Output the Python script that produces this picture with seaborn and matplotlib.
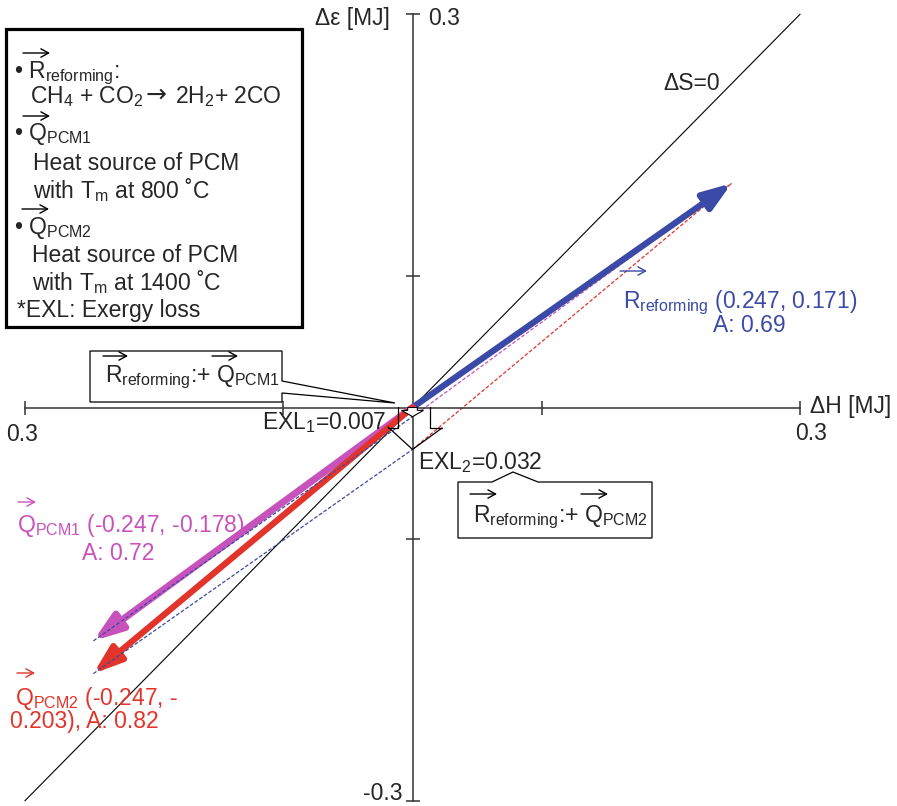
import numpy as np
import seaborn as sns
import matplotlib
matplotlib.use('Agg')
import matplotlib.pyplot as plt
from matplotlib.patches import Rectangle, Polygon

# vectors in the dH - d(exergy) plane [MJ]
vec_names = ['R_reforming', 'Q_PCM1', 'Q_PCM2']
dH = [0.247, -0.247, -0.247]
dE = [0.171, -0.178, -0.203]
ratio_A = [0.69, 0.72, 0.82]
exl = [0.007, 0.032]          # exergy losses EXL1, EXL2
axis_ticks = [-0.3, -0.1, 0.1, 0.3]
ds0_line = [-0.3, 0.3]        # dS = 0 line (dE = dH)

blue = '#3A4AA6'
magenta = '#C852BC'
red = '#E3342B'

sns.set_style('white')
plt.rcParams['font.family'] = ['Liberation Sans', 'DejaVu Sans']
plt.rcParams['mathtext.fontset'] = 'custom'
plt.rcParams['mathtext.rm'] = 'Liberation Sans'
plt.rcParams['mathtext.it'] = 'Liberation Sans:italic'
plt.rcParams['mathtext.bf'] = 'Liberation Sans:bold'
FS = 16.5

fig = plt.figure(figsize=(8.97, 8.06), dpi=100)
ax = fig.add_axes([0, 0, 1, 1])

# pixel position of the picture -> data coords (for placing annotations)
X0, SX = 412.5, 1292.0
Y0, SY = 407.5, 1311.0
def px(x, y):
    return ((x - X0) / SX, (Y0 - y) / SY)

def vec_mark(x0, x1, y, color='black'):
    # small arrow drawn over a vector symbol
    ax.annotate('', xy=px(x1, y), xytext=px(x0, y),
                arrowprops=dict(arrowstyle='->,head_length=0.55,head_width=0.3',
                                mutation_scale=10, lw=1.0, color=color,
                                shrinkA=0, shrinkB=0), zorder=9)

ax.set_xlim(px(0, 0)[0], px(897, 0)[0])
ax.set_ylim(px(0, 806)[1], px(0, 0)[1])

# axes crossing at the origin
for s in ['top', 'right']:
    ax.spines[s].set_visible(False)
ax.spines['left'].set_position(('data', 0))
ax.spines['bottom'].set_position(('data', 0))
ax.spines['left'].set_bounds(-0.3, 0.3)
ax.spines['bottom'].set_bounds(-0.3, 0.3)
for s in ['left', 'bottom']:
    ax.spines[s].set_color('#333333')
    ax.spines[s].set_linewidth(1.1)
ax.set_xticks(axis_ticks)
ax.set_yticks(axis_ticks)
ax.tick_params(bottom=True, left=True, direction='inout', length=10, width=1.1,
               color='#333333', labelbottom=False, labelleft=False)

# dS = 0
sns.lineplot(x=ds0_line, y=ds0_line, color='black', lw=0.8, ax=ax, zorder=2)

# dashed construction lines (vector sums)
for i in [1, 2]:
    sx, sy = dH[i] + dH[0], dE[i] + dE[0]
    ax.plot([dH[i], sx], [dE[i], sy], color=blue, lw=0.9, ls=(0, (3, 1.5)), zorder=4)
ax.plot([0, dH[0]], [dE[1] + dE[0], dE[0]], color=magenta, lw=0.9, ls=(0, (3, 1.5)), zorder=2)
ax.plot([0, dH[0]], [dE[2] + dE[0], dE[0]], color=red, lw=0.9, ls=(0, (3, 1.5)), zorder=2)

# main vectors
for i, (c, w) in enumerate([(blue, 4.5), (magenta, 5), (red, 4.5)]):
    ax.annotate('', xy=(dH[i], dE[i]), xytext=(0, 0),
                arrowprops=dict(arrowstyle='-|>,head_length=0.85,head_width=0.3',
                                mutation_scale=20, lw=w, color=c,
                                shrinkA=0, shrinkB=0), zorder=3)

# exergy loss brackets
ax.plot(*zip(px(398, 407), px(398, 428), px(388, 428)), color='black', lw=0.9, zorder=5)
ax.plot(*zip(px(430, 407), px(430, 428), px(442, 428)), color='black', lw=0.9, zorder=5)
vx = [px(388, 427)[0], 0, px(442, 428)[0]]
vy = [px(388, 427)[1], -exl[1], px(442, 428)[1]]
ax.plot(vx, vy, color='black', lw=0.9, zorder=5)
ax.arrow(0, 0, 0, -exl[0], width=0.0075, head_width=0.017, head_length=0.0048,
         length_includes_head=True, fc='white', ec='black', lw=0.8, zorder=6)

# legend box
bx0, by0 = px(6, 327)
bx1, by1 = px(302, 29)
ax.add_patch(Rectangle((bx0, by0), bx1 - bx0, by1 - by0, fc='white', ec='black',
                       lw=2.3, zorder=7))

R_sym = r'R$_{\mathrm{reforming}}$'
Q1_sym = r'Q$_{\mathrm{PCM1}}$'
Q2_sym = r'Q$_{\mathrm{PCM2}}$'

legend_lines = [
    (14, 78, '• ' + R_sym + ':'),
    (30, 103, 'CH$_4$ + CO$_2$'),
    (175, 103, '2H$_2$+ 2CO'),
    (14, 140, '• ' + Q1_sym),
    (33, 170, 'Heat source of PCM'),
    (33, 198, r'with T$_\mathrm{m}$ at 800 ˚C'),
    (14, 234, '• ' + Q2_sym),
    (32, 262, 'Heat source of PCM'),
    (32, 290, r'with T$_\mathrm{m}$ at 1400 ˚C'),
    (17, 317, '*EXL: Exergy loss'),
]
for x, y, t in legend_lines:
    ax.text(*px(x, y), t, fontsize=FS, va='baseline', ha='left', zorder=8)
ax.text(*px(146, 102), '→', fontsize=18, family='DejaVu Sans', va='baseline', zorder=8)
vec_mark(23, 50, 53)
vec_mark(23, 50, 116)
vec_mark(22, 49, 209)

# callout boxes
c1 = [px(90, 351), px(282, 351), px(282, 381), px(395, 403), px(282, 393),
      px(282, 402), px(90, 402)]
ax.add_patch(Polygon(c1, closed=True, fc='white', ec='black', lw=0.9, zorder=7))
ax.text(*px(105, 382), R_sym + ':+ ' + Q1_sym, fontsize=FS, va='baseline', zorder=8)
vec_mark(103, 128, 356)
vec_mark(212, 238, 356)
c2 = [px(458, 482), px(492, 482), px(513, 472), px(538, 482), px(652, 482),
      px(652, 538), px(458, 538)]
ax.add_patch(Polygon(c2, closed=True, fc='white', ec='black', lw=0.9, zorder=7))
ax.text(*px(473, 522), R_sym + ':+ ' + Q2_sym, fontsize=FS, va='baseline', zorder=8)
vec_mark(470, 497, 494)
vec_mark(581, 608, 494)

# vector labels
ax.text(*px(623, 308), R_sym + f' ({dH[0]:.3f}, {dE[0]:.3f})', color=blue,
        fontsize=FS, va='baseline')
ax.text(*px(713, 332), f'A: {ratio_A[0]:.2f}', color=blue, fontsize=FS, va='baseline')
vec_mark(620, 647, 271, blue)
ax.text(*px(17, 532), Q1_sym + f' ({dH[1]:.3f}, {dE[1]:.3f}),', color=magenta,
        fontsize=FS, va='baseline')
ax.text(*px(82, 560), f'A: {ratio_A[1]:.2f}', color=magenta, fontsize=FS, va='baseline')
vec_mark(18, 36, 502, magenta)
ax.text(*px(15, 705), Q2_sym + f' ({dH[2]:.3f}, -', color=red, fontsize=FS,
        va='baseline')
ax.text(*px(10, 728), f'{abs(dE[2]):.3f}), A: {ratio_A[2]:.2f}', color=red,
        fontsize=FS, va='baseline')
vec_mark(17, 35, 673, red)

# exergy loss labels
ax.text(*px(262, 429), f'EXL$_1$={exl[0]:.3f}', fontsize=FS, va='baseline', zorder=8)
ax.text(*px(418, 469), f'EXL$_2$={exl[1]:.3f}', fontsize=FS, va='baseline', zorder=8)

# axis titles and end labels
ax.text(*px(663, 90), 'ΔS=0', fontsize=FS, va='baseline')
ax.text(*px(390, 25), 'Δε [MJ]', fontsize=FS, va='baseline', ha='right')
ax.text(*px(428, 25), '0.3', fontsize=FS, va='baseline')
ax.text(*px(810, 413), 'ΔH [MJ]', fontsize=FS, va='baseline')
ax.text(*px(811, 440), '0.3', fontsize=FS, va='baseline', ha='center')
ax.text(*px(22, 441), '0.3', fontsize=FS, va='baseline', ha='center')
ax.text(*px(403, 800), '-0.3', fontsize=FS, va='baseline', ha='right')

fig.savefig('out.png', dpi=100)
